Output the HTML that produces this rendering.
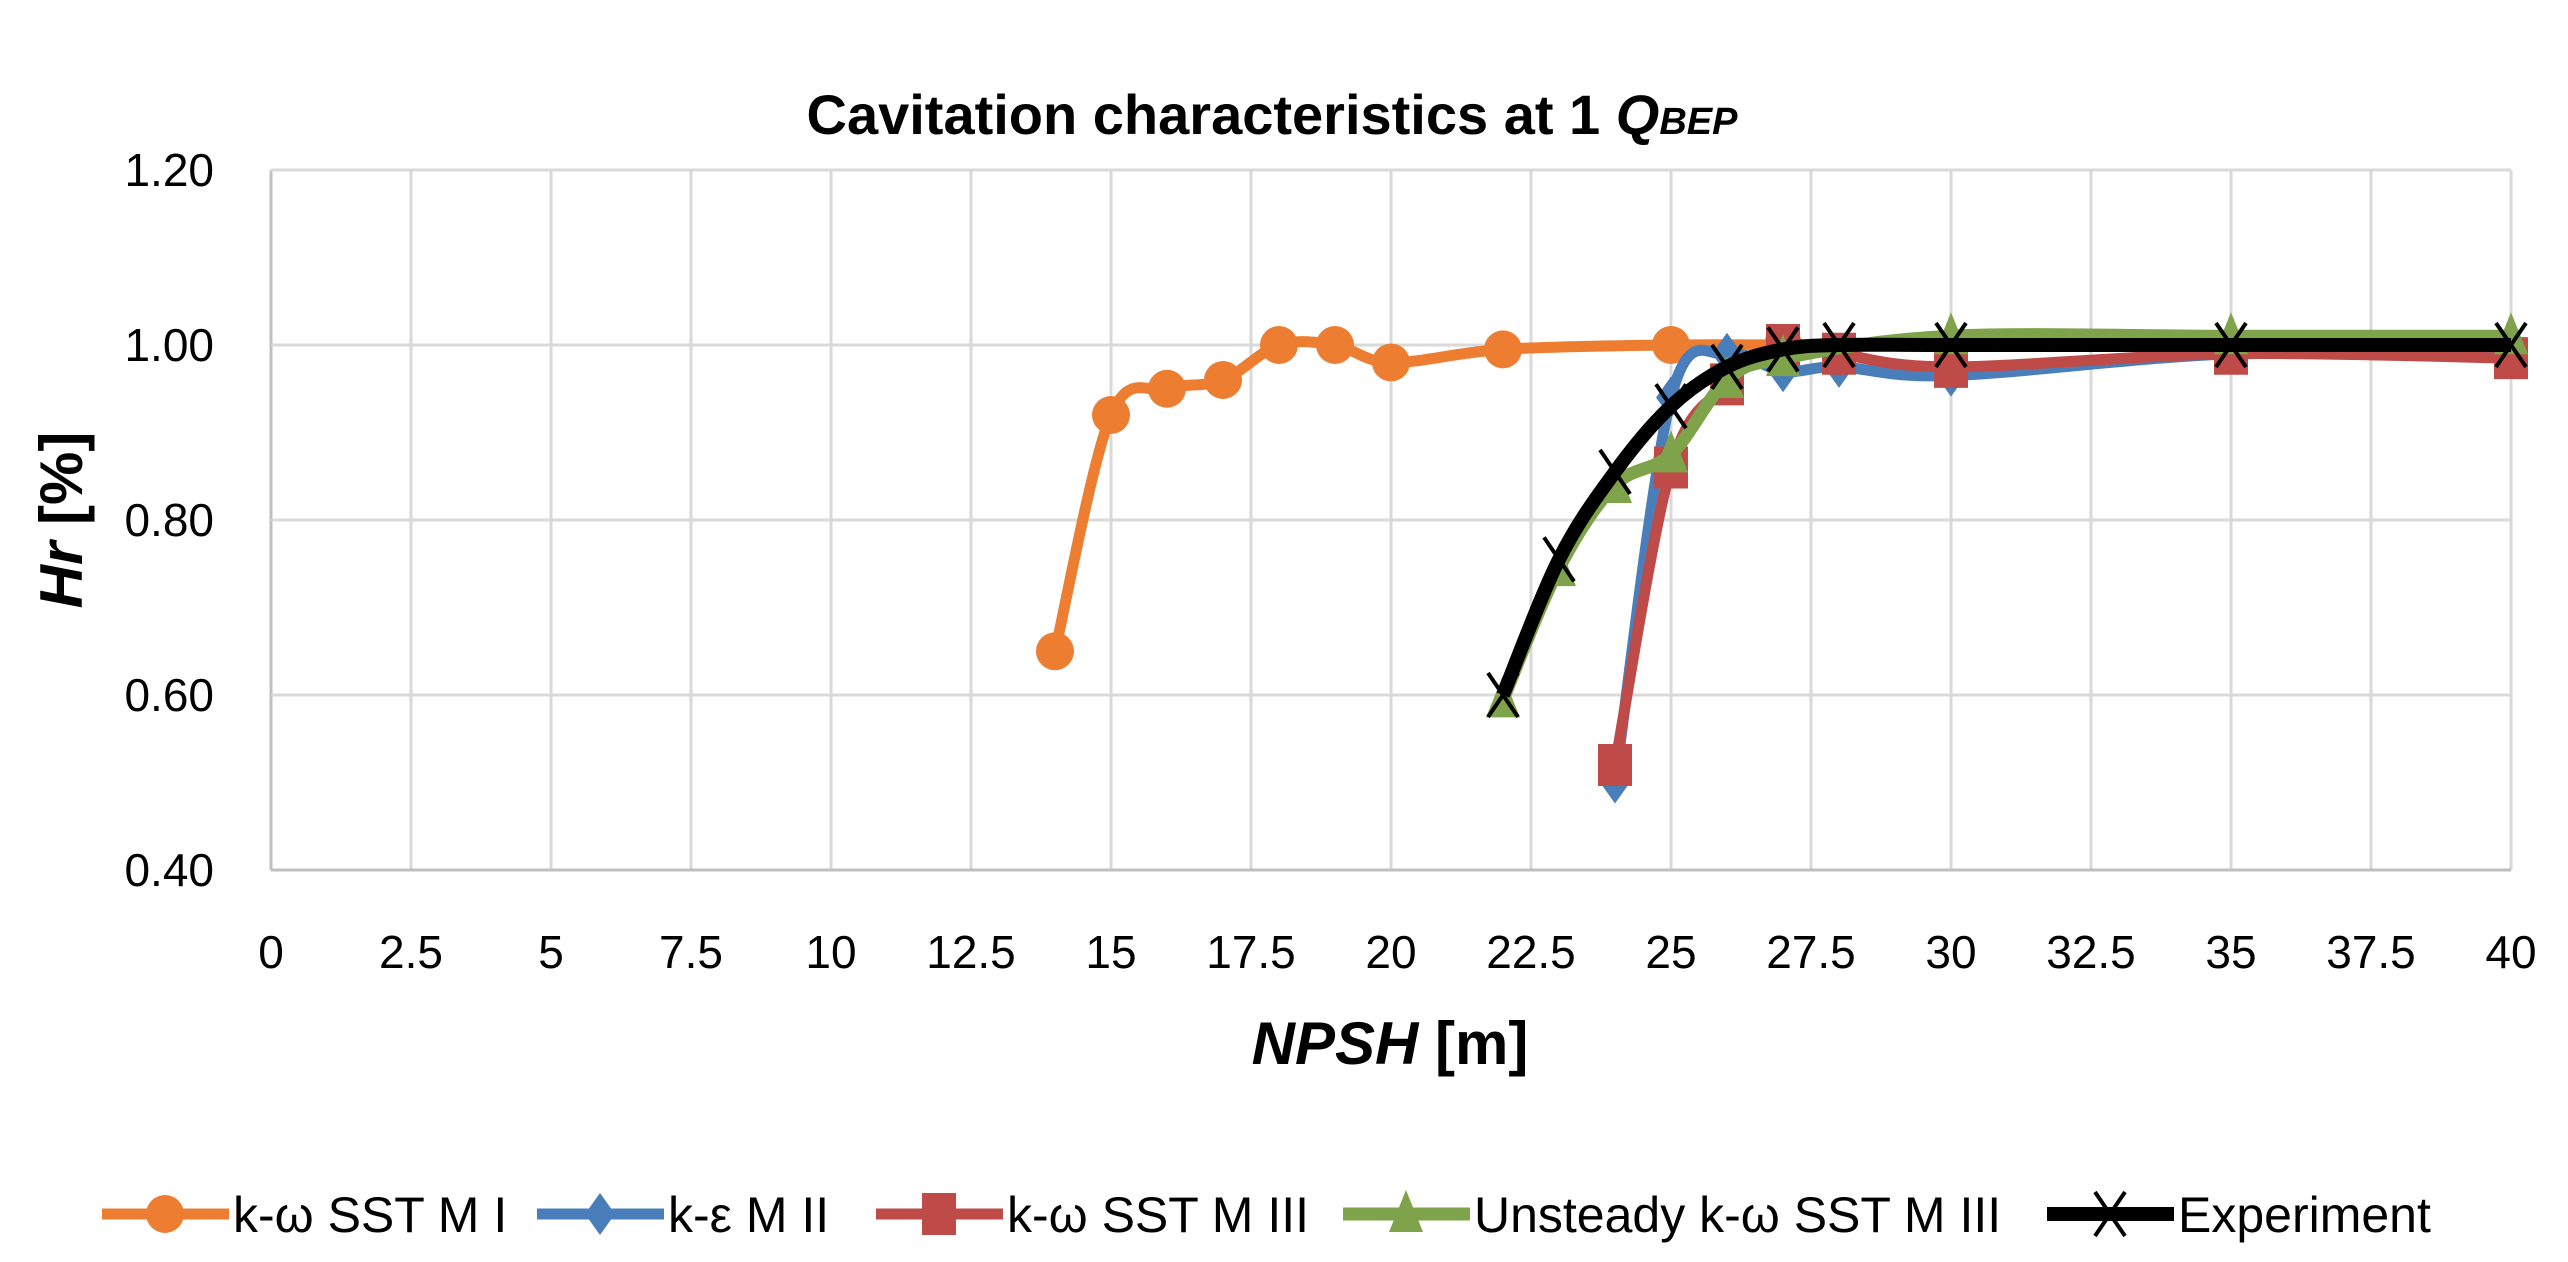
<!DOCTYPE html>
<html><head><meta charset="utf-8"><style>
body{margin:0;background:#fff;}
svg{display:block;font-family:"Liberation Sans",sans-serif;}
</style></head><body>
<svg id="chart" width="2568" height="1262">
<text x="1272" y="134" text-anchor="middle" font-size="56" font-weight="bold">Cavitation characteristics at 1 <tspan font-style="italic">Q</tspan><tspan font-style="italic" font-size="38">BEP</tspan></text>
<g id="grid"></g><g id="series"></g><g id="ticks"></g>
<text x="1390" y="1064" text-anchor="middle" font-size="60" font-weight="bold"><tspan font-style="italic">NPSH</tspan> [m]</text>
<text transform="translate(82,520) rotate(-90)" text-anchor="middle" font-size="60" font-weight="bold"><tspan font-style="italic">Hr</tspan> [%]</text>
<g id="legend"></g>
</svg>
<script>
const xTicks=[0,2.5,5,7.5,10,12.5,15,17.5,20,22.5,25,27.5,30,32.5,35,37.5,40];
const yTicks=[0.4,0.6,0.8,1.0,1.2];
const s1x=[14,15,16,17,18,19,20,22,25,27];
const s1y=[0.65,0.92,0.95,0.96,1.0,1.0,0.98,0.995,1.0,1.0];
const s2x=[24,25,26,27,28,30,35,40];
const s2y=[0.50,0.94,0.99,0.97,0.975,0.965,0.99,0.99];
const s3x=[24,25,26,27,28,30,35,40];
const s3y=[0.52,0.86,0.955,1.0,0.99,0.975,0.99,0.985];
const s4x=[22,23,24,25,26,27,30,35,40];
const s4y=[0.595,0.745,0.84,0.875,0.96,0.985,1.01,1.01,1.01];
const s5x=[22,23,24,25,26,27,28,30,35,40];
const s5y=[0.60,0.755,0.855,0.93,0.975,0.995,1.0,1.0,1.0,1.0];
const names=["k-ω SST M I","k-ε M II","k-ω SST M III","Unsteady k-ω SST M III","Experiment"];
const NS="http://www.w3.org/2000/svg";
const L=271,R=2511,T=170,B=870;
const xs=v=>L+(v-0)/(40-0)*(R-L);
const ys=v=>B-(v-0.4)/(1.2-0.4)*(B-T);
function mk(tag,a,p){const e=document.createElementNS(NS,tag);for(const k in a)e.setAttribute(k,a[k]);p.appendChild(e);return e;}
const grid=document.getElementById('grid'),ticks=document.getElementById('ticks');
xTicks.forEach((t,i)=>{
 const l=mk('line',{x1:xs(t),x2:xs(t),y1:T,y2:B,stroke:i==0?'#bfbfbf':'#d9d9d9','stroke-width':3},grid);
 
 
 const tx=mk('text',{x:xs(t),y:968,'text-anchor':'middle','font-size':46},ticks);
 tx.textContent=t;
 
 
});
yTicks.forEach((t,i)=>{
 const l=mk('line',{x1:L,x2:R,y1:ys(t),y2:ys(t),stroke:i==0?'#bfbfbf':'#d9d9d9','stroke-width':3},grid);
 
 
 const tx=mk('text',{x:214,y:ys(t)+16,'text-anchor':'end','font-size':46},ticks);
 tx.textContent=t.toFixed(2);
 
 
});
function smooth(px,py){
 let d='M'+px[0]+','+py[0];
 for(let i=0;i<px.length-1;i++){
  const x0=px[Math.max(i-1,0)],y0=py[Math.max(i-1,0)],x3=px[Math.min(i+2,px.length-1)],y3=py[Math.min(i+2,px.length-1)];
  const c1x=px[i]+(px[i+1]-x0)/6,c1y=py[i]+(py[i+1]-y0)/6,c2x=px[i+1]-(x3-px[i])/6,c2y=py[i+1]-(y3-py[i])/6;
  d+=` C${c1x},${c1y} ${c2x},${c2y} ${px[i+1]},${py[i+1]}`;
 }
 return d;
}
function marker(type,x,y,col,g){
 let e;
 if(type=='circle')e=mk('circle',{cx:x,cy:y,r:19,fill:col},g);
 else if(type=='diamond')e=mk('path',{d:`M${x},${y-21}L${x+15},${y}L${x},${y+21}L${x-15},${y}Z`,fill:col},g);
 else if(type=='square')e=mk('rect',{x:x-17,y:y-21,width:34,height:42,fill:col},g);
 else if(type=='tri')e=mk('path',{d:`M${x},${y-24}L${x+17},${y+18}L${x-17},${y+18}Z`,fill:col},g);
 else e=mk('path',{d:`M${x-15},${y-22}L${x+15},${y+22}M${x+15},${y-22}L${x-15},${y+22}`,stroke:col,'stroke-width':4,fill:'none'},g);
 return e;
}
const series=[[s1x,s1y,'#ed7d31','circle',11],[s2x,s2y,'#4a7ebb','diamond',11],[s3x,s3y,'#be4b48','square',11],[s4x,s4y,'#7fa34a','tri',13],[s5x,s5y,'#000','x',14]];
const sg=document.getElementById('series');
series.forEach((s,k)=>{
 const g=mk('g',{},sg);
 
 
 const px=s[0].map(xs),py=s[1].map(ys);
 const p=mk('path',{d:smooth(px,py),stroke:s[2],'stroke-width':s[4],fill:'none','stroke-linejoin':'round'},g);
 
 
 px.forEach((x,i)=>{const m=marker(s[3],x,py[i],s[2],g);
  
  });
});
const lg=document.getElementById('legend');
const lx=[102,537,876,1343,2047],ly=1214;
series.forEach((s,k)=>{
 const g=mk('g',{},lg);
 
 
 mk('line',{x1:lx[k],x2:lx[k]+127,y1:ly,y2:ly,stroke:s[2],'stroke-width':s[4]},g);
 marker(s[3],lx[k]+63,ly,s[2],g);
 const t=mk('text',{x:lx[k]+131,y:ly+18,'font-size':50},g);
 t.textContent=names[k];
});
</script>
</body></html>
